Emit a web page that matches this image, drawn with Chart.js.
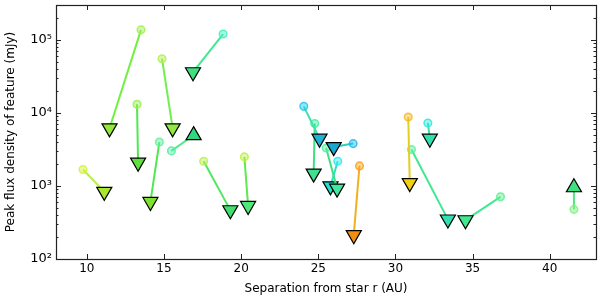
<html>
  <head>
    <style>
      body { margin: 0; background: #fff; }
      #wrap { width: 600px; height: 296px; }
    </style>
  </head>
  <body>
    <div id="wrap"><canvas id="myChart" width="600" height="296"></canvas></div>

    <script src="https://cdn.jsdelivr.net/npm/chart.js"></script>
    <script>
      "use strict";

      // separation (AU) and peak flux (mJy): first epoch (circle) -> second epoch (triangle)
      const startSep  = [9.75, 13.51, 14.87, 18.83, 13.25, 15.48, 14.70, 17.57, 20.21, 24.06,
                         24.77, 27.26, 25.51, 26.26, 27.67, 30.83, 32.10, 31.04, 36.81, 41.57];
      const startFlux = [1680, 137000, 55200, 120000, 13100, 3020, 3990, 2180, 2500, 12300,
                         7140, 3800, 3310, 2180, 1880, 8790, 7280, 3160, 710, 478];
      const endSep    = [11.13, 11.47, 15.56, 16.88, 13.32, 16.92, 14.12, 19.30, 20.45, 25.08,
                         24.70, 26.00, 26.22, 25.79, 27.30, 30.93, 32.23, 33.40, 34.54, 41.57];
      const endFlux   = [835, 6170, 6170, 36200, 2095, 4940, 607, 467, 535, 4460,
                         1483, 3420, 925, 993, 213, 1100, 4460, 349, 341, 955];
      const endDir    = ['v', 'v', 'v', 'v', 'v', '^', 'v', 'v', 'v', 'v',
                         'v', 'v', 'v', 'v', 'v', 'v', 'v', 'v', 'v', '^'];

      const circleColor = ['#d4f040', '#a0f050', '#b0f050', '#40f0c0', '#98f050', '#50f0a0', '#60f0a0', '#b8f050', '#c0f040', '#20c8f0',
                           '#40f0a0', '#20b8f0', '#50f0a0', '#30e8f0', '#f8a020', '#f8b820', '#30e8e0', '#60f0a0', '#60f090', '#80f080'];
      const lineColor   = ['#b8f040', '#70f040', '#70f050', '#40e890', '#50e850', '#50e890', '#50e850', '#50e860', '#60e850', '#40e0b0',
                           '#40e080', '#30d0c0', '#40e080', '#30e0c0', '#f0b020', '#e0d020', '#40e0a0', '#40e890', '#40e890', '#50e880'];
      const triColor    = ['#a8e830', '#90e838', '#90e840', '#40e080', '#60e040', '#30d880', '#80e030', '#40e070', '#50e878', '#20b0d8',
                           '#40e090', '#18a8d0', '#40e8a0', '#20e0d0', '#f09010', '#f0d010', '#30e0b0', '#30e0b0', '#40e890', '#40e080'];

      const xTicks = [10, 15, 20, 25, 30, 35, 40];
      const yTicks = [100, 1000, 10000, 100000];
      const sup = { 2: '\u00b2', 3: '\u00b3', 4: '\u2074', 5: '\u2075' };

      function fade(hex, a) {
          const n = parseInt(hex.slice(1), 16);
          return `rgba(${n >> 16}, ${(n >> 8) & 255}, ${n & 255}, ${a})`;
      }

      const datasets = startSep.map((s, i) => ({
          data: [{ x: s, y: startFlux[i] }, { x: endSep[i], y: endFlux[i] }],
          showLine: true,
          borderColor: lineColor[i],
          borderWidth: 2,
          pointStyle: ['circle', 'triangle'],
          pointRadius: [3.8, 8.7],
          pointRotation: [0, endDir[i] == 'v' ? 180 : 0],
          pointBackgroundColor: [fade(circleColor[i], 0.45), triColor[i]],
          pointBorderColor: [fade(circleColor[i], 0.85), '#000'],
          pointBorderWidth: [1.5, 1.2]
      }));

      // matplotlib-ish frame with inward ticks
      const frame = {
          id: 'frame',
          afterDraw(chart) {
              const ctx = chart.ctx;
              const a = chart.chartArea;
              const xs = chart.scales.x, ys = chart.scales.y;
              ctx.save();
              ctx.strokeStyle = '#222';
              ctx.lineWidth = 1;
              ctx.beginPath();
              xTicks.forEach(t => {
                  const px = Math.round(xs.getPixelForValue(t)) + 0.5;
                  ctx.moveTo(px, a.bottom); ctx.lineTo(px, a.bottom - 5);
                  ctx.moveTo(px, a.top); ctx.lineTo(px, a.top + 5);
              });
              for (let d = 100; d < 1e6; d *= 10) {
                  for (let m = 1; m < 10; m++) {
                      const v = d * m;
                      if (v > ys.max) break;
                      const py = Math.round(ys.getPixelForValue(v)) + 0.5;
                      const len = m == 1 ? 5 : 2.5;
                      ctx.moveTo(a.left, py); ctx.lineTo(a.left + len, py);
                      ctx.moveTo(a.right, py); ctx.lineTo(a.right - len, py);
                  }
              }
              ctx.stroke();
              ctx.lineWidth = 1.2;
              ctx.strokeRect(Math.round(a.left) + 0.5, Math.round(a.top) + 0.5,
                             Math.round(a.right - a.left), Math.round(a.bottom - a.top));
              ctx.restore();
          }
      };

      const ctx = document.getElementById('myChart').getContext('2d');
      const chart = new Chart(ctx, {
          type: 'scatter',
          data: { datasets: datasets },
          options: {
              responsive: false,
              animation: false,
              layout: { autoPadding: false, padding: { top: 5, right: 4, left: 0, bottom: 0 } },
              plugins: { legend: { display: false }, tooltip: { enabled: false } },
              scales: {
                  x: {
                      type: 'linear',
                      min: 8, max: 43,
                      afterBuildTicks: s => { s.ticks = xTicks.map(v => ({ value: v })); },
                      afterFit: s => { s.height = 37; s.paddingLeft = 0; s.paddingRight = 0; },
                      grid: { display: false, drawTicks: false },
                      border: { display: false },
                      ticks: { color: '#000', padding: 3, font: { family: 'DejaVu Sans', size: 12 } },
                      title: { display: true, text: 'Separation from star r (AU)', color: '#000', padding: 0,
                               font: { family: 'DejaVu Sans', size: 12 } }
                  },
                  y: {
                      type: 'logarithmic',
                      min: 100, max: 3e5,
                      afterBuildTicks: s => { s.ticks = yTicks.map(v => ({ value: v })); },
                      afterFit: s => { s.width = 56; s.paddingTop = 0; s.paddingBottom = 0; },
                      grid: { display: false, drawTicks: false },
                      border: { display: false },
                      ticks: {
                          color: '#000', padding: 4,
                          font: { family: 'DejaVu Sans', size: 13 },
                          callback: v => '10' + sup[Math.round(Math.log10(v))]
                      },
                      title: { display: true, text: 'Peak flux density of feature (mJy)', color: '#000', padding: { top: 4, bottom: 0 },
                               font: { family: 'DejaVu Sans', size: 12 } }
                  }
              }
          },
          plugins: [frame]
      });
    </script>
  </body>
</html>
